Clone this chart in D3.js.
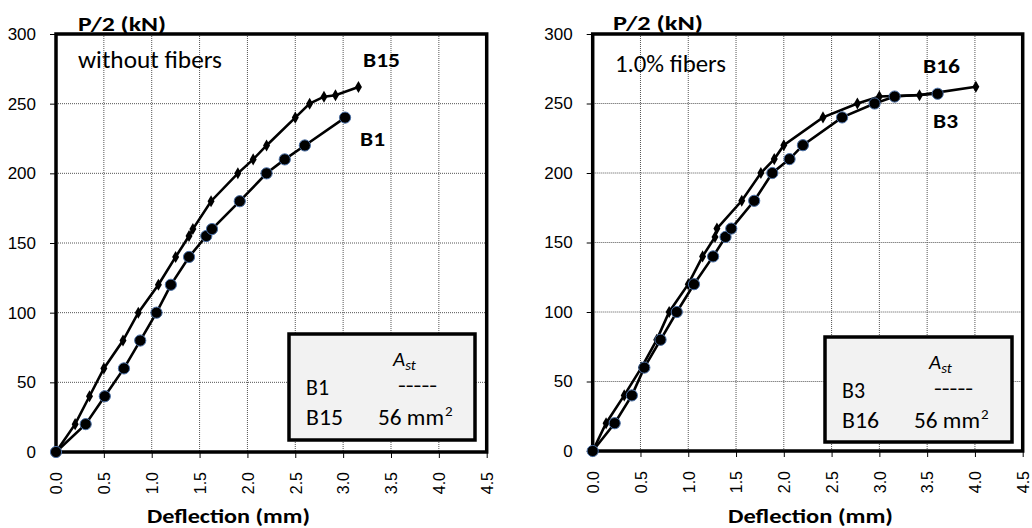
<!DOCTYPE html>
<html><head><meta charset="utf-8">
<script src="https://cdn.jsdelivr.net/npm/d3@7"></script>
<style>
html,body{margin:0;padding:0;background:#fff;}
svg{display:block;}
</style></head>
<body>
<svg id="chart" width="1032" height="528"></svg>
<script>
// ---- data ----
const xTicks = [0.0, 0.5, 1.0, 1.5, 2.0, 2.5, 3.0, 3.5, 4.0, 4.5];
const yTicks = [0, 50, 100, 150, 200, 250, 300];
const yLabel = "P/2  (kN)";
const xLabel = "Deflection (mm)";

// left panel: without fibers
const b15 = [[0,0],[0.2,20],[0.35,40],[0.5,60],[0.7,80],[0.86,100],[1.07,120],[1.25,140],[1.39,155],[1.43,160],[1.62,180],[1.9,200],[2.06,210],[2.2,220],[2.5,240],[2.65,250],[2.8,255],[2.92,256],[3.16,262]];
const b1  = [[0,0],[0.31,20],[0.51,40],[0.71,60],[0.88,80],[1.05,100],[1.2,120],[1.39,140],[1.57,155],[1.63,160],[1.92,180],[2.2,200],[2.39,210],[2.6,220],[3.02,240]];
// right panel: 1.0% fibers
const b16 = [[0,0],[0.14,20],[0.33,40],[0.51,60],[0.67,80],[0.8,100],[1.0,120],[1.15,140],[1.28,154],[1.3,160],[1.56,180],[1.76,200],[1.9,210],[2.0,220],[2.41,240],[2.77,250],[3.0,255],[3.42,256],[4.01,262]];
const b3  = [[0,0],[0.23,20],[0.41,40],[0.54,60],[0.71,80],[0.88,100],[1.06,120],[1.26,140],[1.39,154],[1.45,160],[1.69,180],[1.88,200],[2.06,210],[2.2,220],[2.61,240],[2.95,250],[3.16,255],[3.61,257]];

const panelTitles = ["without fibers", "1.0% fibers"];
const diamondNames = ["B15", "B16"];
const circleNames = ["B1", "B3"];
const legendRows = [["B1", "B15"], ["B3", "B16"]];

// ---- drawing ----
const svg = d3.select("#chart");
const titleFont = "Carlito, Calibri, Lato, 'Open Sans', sans-serif";
const tickFont = "'Liberation Sans', Arial, sans-serif";

const panels = [
  {x0:56, x1:486.7, y0:34, y1:452, diam:b15, circ:b1, title:panelTitles[0], dName:diamondNames[0], cName:circleNames[0], rows:legendRows[0],
   titlePos:[78,68,144], dPos:[363,67,37], cPos:[360,146,25], yLab:[78,31,88], xLab:[147,523,163],
   leg:{x:289,y:334,w:186,h:106}},
  {x0:592.7, x1:1022.7, y0:34, y1:451, diam:b16, circ:b3, title:panelTitles[1], dName:diamondNames[1], cName:circleNames[1], rows:legendRows[1],
   titlePos:[615,72,111], dPos:[923,73,37], cPos:[933,128,25], yLab:[613,30,90], xLab:[728,523,165],
   leg:{x:825,y:337,w:187,h:105}}
];

function txt(g, x, y, s, size, len, opts) {
  const t = g.append("text").attr("x", x).attr("y", y).attr("font-family", titleFont).attr("font-size", size).text(s);
  if (len) t.attr("textLength", len).attr("lengthAdjust", "spacingAndGlyphs");
  if (opts && opts.bold) t.attr("font-weight", "bold");
  return t;
}

panels.forEach(p => {
  const g = svg.append("g");
  const x = d3.scaleLinear().domain([0, 4.5]).range([p.x0, p.x1]);
  const y = d3.scaleLinear().domain([0, 300]).range([p.y1, p.y0]);

  // grid
  g.append("g").selectAll("line.vg").data(xTicks.filter(t => t > 0 && t < 4.5)).join("line")
    .attr("x1", d => x(d)).attr("x2", d => x(d)).attr("y1", p.y0).attr("y2", p.y1)
    .attr("stroke", "#555").attr("stroke-width", 1).attr("stroke-dasharray", "1,1");
  g.append("g").selectAll("line.hg").data(yTicks.filter(t => t > 0 && t < 300)).join("line")
    .attr("x1", p.x0).attr("x2", p.x1).attr("y1", d => y(d)).attr("y2", d => y(d))
    .attr("stroke", "#555").attr("stroke-width", 1).attr("stroke-dasharray", "1,1");

  // axes
  const yAxis = d3.axisLeft(y).tickValues(yTicks).tickSize(6).tickPadding(14).tickFormat(d3.format("d"));
  const ya = g.append("g").attr("transform", `translate(${p.x0},0)`).call(yAxis);
  ya.select(".domain").remove();
  ya.selectAll("text").attr("font-family", tickFont).attr("font-size", 17).attr("fill", "#000");
  ya.selectAll("line").attr("stroke", "#000");

  const xAxis = d3.axisBottom(x).tickValues(xTicks).tickSize(6).tickFormat(d3.format(".1f"));
  const xa = g.append("g").attr("transform", `translate(0,${p.y1})`).call(xAxis);
  xa.select(".domain").remove();
  xa.selectAll("line").attr("stroke", "#000");
  xa.selectAll("text").attr("font-family", tickFont).attr("font-size", 16).attr("fill", "#000")
    .attr("transform", "rotate(-90)").attr("text-anchor", "end")
    .attr("x", -20).attr("y", 0).attr("dy", "0.36em");

  // frame
  g.append("rect").attr("x", p.x0).attr("y", p.y0).attr("width", p.x1 - p.x0).attr("height", p.y1 - p.y0)
    .attr("fill", "none").attr("stroke", "#000").attr("stroke-width", 3.5);

  // axis labels
  txt(g, p.yLab[0], p.yLab[1], yLabel, 21, p.yLab[2], {bold:true});
  txt(g, p.xLab[0], p.xLab[1], xLabel, 20, p.xLab[2], {bold:true});

  // legend box
  const L = p.leg;
  g.append("rect").attr("x", L.x).attr("y", L.y).attr("width", L.w).attr("height", L.h)
    .attr("fill", "#f2f2f2").attr("stroke", "#000").attr("stroke-width", 3.5);
  const ast = g.append("text").attr("x", L.x + 104).attr("y", L.y + 32).attr("font-family", titleFont).attr("font-size", 21).attr("font-style", "italic");
  ast.append("tspan").text("A");
  ast.append("tspan").attr("font-size", 15).attr("dy", 4).text("st");
  txt(g, L.x + 17, L.y + 61, p.rows[0], 22, 23);
  txt(g, L.x + 109, L.y + 58, "-----", 20, 39);
  txt(g, L.x + 17, L.y + 91, p.rows[1], 22, 37);
  const mm = g.append("text").attr("x", L.x + 89).attr("y", L.y + 91).attr("font-family", titleFont).attr("font-size", 22);
  mm.append("tspan").attr("textLength", 66).attr("lengthAdjust", "spacingAndGlyphs").text("56 mm");
  mm.append("tspan").attr("font-size", 15).attr("dx", 1).attr("dy", -9).text("2");

  // series
  const line = d3.line().x(d => x(d[0])).y(d => y(d[1]));
  g.append("path").datum(p.diam).attr("d", line).attr("fill", "none").attr("stroke", "#000").attr("stroke-width", 2.6);
  g.append("path").datum(p.circ).attr("d", line).attr("fill", "none").attr("stroke", "#000").attr("stroke-width", 2.6);
  g.append("g").selectAll("path").data(p.diam).join("path")
    .attr("d", d3.symbol(d3.symbolDiamond, 42))
    .attr("transform", d => `translate(${x(d[0])},${y(d[1])})`).attr("fill", "#000");
  g.append("g").selectAll("circle").data(p.circ).join("circle")
    .attr("cx", d => x(d[0])).attr("cy", d => y(d[1])).attr("r", 5.6)
    .attr("fill", "#000").attr("stroke", "#4a6fa5").attr("stroke-width", 1);

  // labels
  txt(g, p.titlePos[0], p.titlePos[1], p.title, 24, p.titlePos[2]);
  txt(g, p.dPos[0], p.dPos[1], p.dName, 21, p.dPos[2], {bold:true});
  txt(g, p.cPos[0], p.cPos[1], p.cName, 21, p.cPos[2], {bold:true});
});
</script>
</body></html>
